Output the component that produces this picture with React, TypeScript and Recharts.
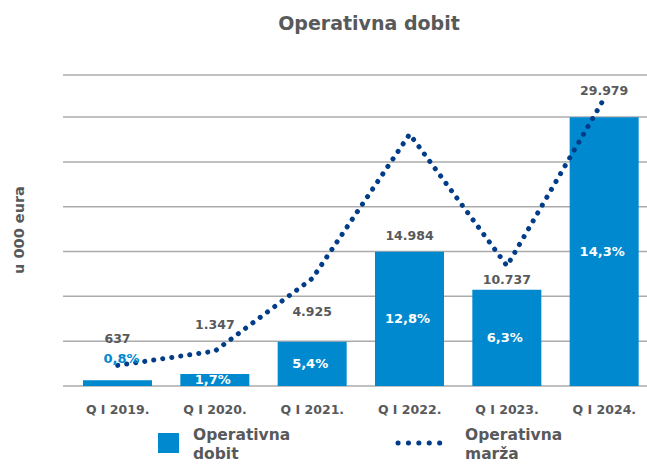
import { ComposedChart, Bar, Line, XAxis, YAxis, CartesianGrid, LabelList, Legend } from 'recharts';

// ulazni podaci (u 000 eura)
const kvartali = ['Q I 2019.', 'Q I 2020.', 'Q I 2021.', 'Q I 2022.', 'Q I 2023.', 'Q I 2024.'];
const operativnaDobit = [637, 1347, 4925, 14984, 10737, 29979];
const operativnaMarza = [0.8, 1.7, 5.4, 12.8, 6.3, 14.3];
// položaj točkaste linije marže, očitan na skali grafa
const marzaLinija = [2300, 3900, 12000, 28100, 13400, 32100];
const yTicks = [0, 5000, 10000, 15000, 20000, 25000, 30000, 34700];

const data = kvartali.map((k, i) => ({
  kvartal: k,
  dobit: operativnaDobit[i],
  marza: operativnaMarza[i],
  linija: marzaLinija[i],
}));

const FONT = "'DejaVu Sans', sans-serif";
const GREY = '#58595b';
const BLUE = '#0089cf';
const NAVY = '#003c87';

// koliko je iznos podignut iznad vrha stupca
const valueLabelLift = [42, 49, 30, 16, 10, 27];

const fmtDobit = (n: number) => n.toString().replace(/\B(?=(\d{3})+(?!\d))/g, '.');
const fmtMarza = (n: number) => n.toFixed(1).replace('.', ',') + '%';

const ValueLabel = (props: any) => {
  const { x, y, width, value, index } = props;
  return (
    <text
      x={x + width / 2}
      y={y - valueLabelLift[index]}
      textAnchor="middle"
      dominantBaseline="central"
      fontFamily={FONT}
      fontWeight={700}
      fontSize={12.5}
      fill={GREY}
    >
      {fmtDobit(value)}
    </text>
  );
};

const MarzaLabel = (props: any) => {
  const { x, y, width, height, value, index } = props;
  // prvi stupac je prenizak pa postotak ide iznad njega
  const outside = index === 0;
  return (
    <text
      x={x + width / 2 + (outside ? 4 : -2)}
      y={outside ? y - 22 : y + height / 2}
      textAnchor="middle"
      dominantBaseline="central"
      fontFamily={FONT}
      fontWeight={700}
      fontSize={13}
      fill={outside ? BLUE : '#ffffff'}
    >
      {fmtMarza(value)}
    </text>
  );
};

const YLabel = () => (
  <text
    x={19}
    y={230}
    transform="rotate(-90 19 230)"
    textAnchor="middle"
    dominantBaseline="central"
    fontFamily={FONT}
    fontWeight={700}
    fontSize={14.5}
    fill={GREY}
  >
    u 000 eura
  </text>
);

const legendText: React.CSSProperties = {
  position: 'absolute',
  fontFamily: FONT,
  fontWeight: 700,
  fontSize: 15.5,
  lineHeight: '19px',
  color: GREY,
  whiteSpace: 'nowrap',
};

const renderLegend = () => (
  <div style={{ position: 'relative', width: 647, height: 38 }}>
    <div style={{ position: 'absolute', left: 158, top: 7, width: 21, height: 20, background: BLUE }} />
    <div style={{ ...legendText, left: 193, top: 0 }}>
      Operativna
      <br />
      dobit
    </div>
    <svg style={{ position: 'absolute', left: 394, top: 12 }} width={62} height={10}>
      <line x1={4} y1={5} x2={56} y2={5} stroke={NAVY} strokeWidth={5} strokeLinecap="round" strokeDasharray="0.1 10.3" />
    </svg>
    <div style={{ ...legendText, left: 465, top: 0 }}>
      Operativna
      <br />
      marža
    </div>
  </div>
);

// oznake na osi Y se ne prikazuju, ali crte mreže ostaju
const NoTick = () => <g />;

export default function App() {
  return (
    <div style={{ position: 'absolute', left: 0, top: 0, width: 647, height: 464, overflow: 'hidden', background: '#fff' }}>
      <ComposedChart width={653} height={464} data={data} margin={{ top: 75, right: 0, left: 0, bottom: 38 }}>
        <CartesianGrid vertical={false} stroke="#ababab" strokeWidth={1.5} />
        <XAxis
          dataKey="kvartal"
          height={40}
          axisLine={false}
          tickLine={false}
          tickSize={0}
          tickMargin={19}
          interval={0}
          padding={{ left: 6, right: 0 }}
          tick={{ fill: GREY, fontSize: 12.5, fontWeight: 700, fontFamily: FONT }}
        />
        <YAxis
          width={63}
          domain={[0, 34700]}
          ticks={yTicks}
          interval={0}
          tick={NoTick}
          axisLine={false}
          tickLine={false}
        />
        <Legend
          verticalAlign="middle"
          align="center"
          layout="horizontal"
          content={renderLegend}
          wrapperStyle={{ top: 426, left: 0, width: 647, height: 38 }}
        />
        <Bar dataKey="dobit" fill={BLUE} barSize={69} isAnimationActive={false}>
          <LabelList dataKey="dobit" content={ValueLabel} />
          <LabelList dataKey="marza" content={MarzaLabel} />
        </Bar>
        <Line
          dataKey="linija"
          type="linear"
          stroke={NAVY}
          strokeWidth={5}
          strokeLinecap="round"
          strokeDasharray="0.1 9"
          dot={false}
          activeDot={false}
          isAnimationActive={false}
        />
        <text
          x={369}
          y={30}
          textAnchor="middle"
          fontFamily={FONT}
          fontWeight={700}
          fontSize={19}
          fill={GREY}
        >
          Operativna dobit
        </text>
        <YLabel />
      </ComposedChart>
    </div>
  );
}
